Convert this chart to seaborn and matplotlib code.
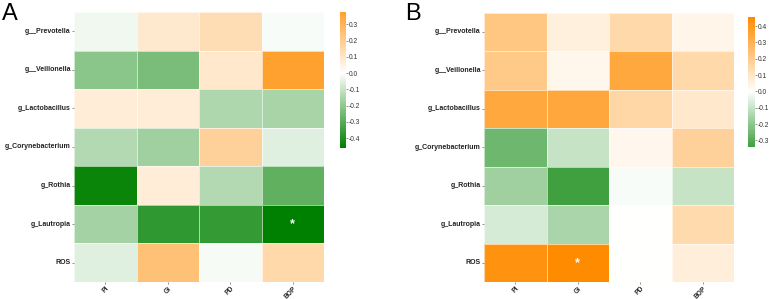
import numpy as np
import pandas as pd
import matplotlib
matplotlib.use("Agg")
import matplotlib.pyplot as plt
import seaborn as sns
from matplotlib.colors import LinearSegmentedColormap

genera = ["g__Prevotella", "g__Veillonella", "g_Lactobacillus", "g_Corynebacterium",
          "g_Rothia", "g_Lautropia", "ROS"]
indices = ["PI", "GI", "PD", "BOP"]

# Panel A correlations (rows = genera, cols = indices)
corr_a = [
    [-0.027, 0.085, 0.135, -0.010],
    [-0.210, -0.235, 0.090, 0.375],
    [0.070, 0.070, -0.145, -0.155],
    [-0.140, -0.170, 0.180, -0.055],
    [-0.440, 0.070, -0.140, -0.285],
    [-0.165, -0.370, -0.365, -0.460],
    [-0.055, 0.245, -0.018, 0.150],
]
sig_a = [
    ["", "", "", ""],
    ["", "", "", ""],
    ["", "", "", ""],
    ["", "", "", ""],
    ["", "", "", ""],
    ["", "", "", "*"],
    ["", "", "", ""],
]

# Panel B correlations
corr_b = [
    [0.220, 0.060, 0.150, 0.040],
    [0.210, 0.035, 0.340, 0.150],
    [0.340, 0.345, 0.160, 0.090],
    [-0.255, -0.100, 0.030, 0.180],
    [-0.165, -0.338, -0.012, -0.100],
    [-0.075, -0.150, 0.000, 0.145],
    [0.420, 0.454, 0.000, 0.065],
]
sig_b = [
    ["", "", "", ""],
    ["", "", "", ""],
    ["", "", "", ""],
    ["", "", "", ""],
    ["", "", "", ""],
    ["", "", "", ""],
    ["", "*", "", ""],
]

cbar_ticks_a = [-0.4, -0.3, -0.2, -0.1, 0.0, 0.1, 0.2, 0.3]
cbar_ticks_b = [-0.3, -0.2, -0.1, 0.0, 0.1, 0.2, 0.3, 0.4]

plt.rcParams["font.family"] = ["Liberation Sans", "DejaVu Sans"]

cmap = LinearSegmentedColormap.from_list("gwo", ["#008000", "#ffffff", "#ff8c00"])

W, H = 770, 299
fig = plt.figure(figsize=(W / 100, H / 100), dpi=100)


def fa(x0, y0, x1, y1):
    return [x0 / W, 1 - y1 / H, (x1 - x0) / W, (y1 - y0) / H]


def panel(corr, sig, ticks, hm_box, cb_box, letter, letter_xy):
    ax = fig.add_axes(fa(*hm_box))
    cax = fig.add_axes(fa(*cb_box))
    df = pd.DataFrame(corr, index=genera, columns=indices)
    sns.heatmap(df, ax=ax, cbar_ax=cax, cmap=cmap, center=0,
                linewidths=0.6, linecolor=(1, 1, 1, 0.6),
                annot=np.array(sig), fmt="",
                annot_kws=dict(color="white", fontsize=9, fontweight="bold"))
    ax.set_xticklabels(indices, rotation=45, ha="right", rotation_mode="anchor",
                       fontsize=4.8, fontweight="bold", color="#222222")
    ax.set_yticklabels(genera, rotation=0, fontsize=5, fontweight="bold",
                       color="#222222")
    ax.tick_params(axis="both", length=1.5, width=0.5, color="#666666", pad=0.8)
    ax.set_xlabel("")
    ax.set_ylabel("")
    cb = ax.collections[0].colorbar
    cb.set_ticks(ticks)
    cb.set_ticklabels([f"{t:.1f}" for t in ticks])
    cb.outline.set_visible(False)
    cax.tick_params(labelsize=4.8, length=1.5, width=0.5, color="#666666", pad=0.8,
                    labelcolor="#333333")
    fig.text(letter_xy[0] / W, 1 - letter_xy[1] / H, letter, fontsize=17,
             va="top", ha="left")
    return ax


panel(corr_a, sig_a, cbar_ticks_a, (74, 12, 324, 282), (340, 12, 346, 148), "A", (2, 3))
panel(corr_b, sig_b, cbar_ticks_b, (484, 12.7, 734, 282), (747.7, 17.3, 755, 146.7), "B", (405, 3))

fig.savefig("out.png", dpi=100)
